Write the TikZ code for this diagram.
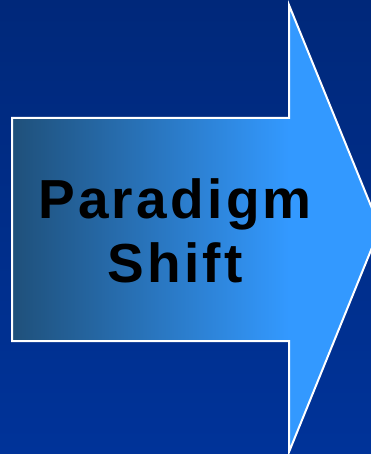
\documentclass[tikz,border=0pt]{standalone}
\usepackage{fontspec}
\newfontfamily\shiftfont{Liberation Sans}[LetterSpace=6]
\usepackage{tikz}
\usetikzlibrary{positioning}

\definecolor{bgtop}{RGB}{0,40,122}
\definecolor{bgbottom}{RGB}{0,51,153}
\definecolor{arrowdark}{RGB}{31,80,122}
\definecolor{arrowbright}{RGB}{51,153,255}

\tikzset{
    shiftlabel/.style={inner sep=0pt, align=center, text=black,
        font=\shiftfont\bfseries\fontsize{55}{64}\selectfont},
    arrowedge/.style={draw=white, line width=2pt, line join=miter}
}

\begin{document}
\begin{tikzpicture}[x=1pt, y=-1pt]
    \useasboundingbox (0,0) rectangle (371,454);

    % Background
    \shade[top color=bgtop, bottom color=bgbottom] (0,0) rectangle (371,454);

    % Arrow head and body
    \fill[arrowbright] (12,118) -- (289,118) -- (289,5) -- (380,228)
        -- (289,452) -- (289,341) -- (12,341) -- cycle;
    \shade[left color=arrowdark, right color=arrowbright]
        (12,118) rectangle (289,341);

    % Outline
    \draw[arrowedge] (12,118) -- (289,118) -- (289,5) -- (380,228)
        -- (289,452) -- (289,341) -- (12,341) -- cycle;

    % Label
    \node[shiftlabel] (shift) at (175,231) {Paradigm\\Shift};
\end{tikzpicture}
\end{document}
